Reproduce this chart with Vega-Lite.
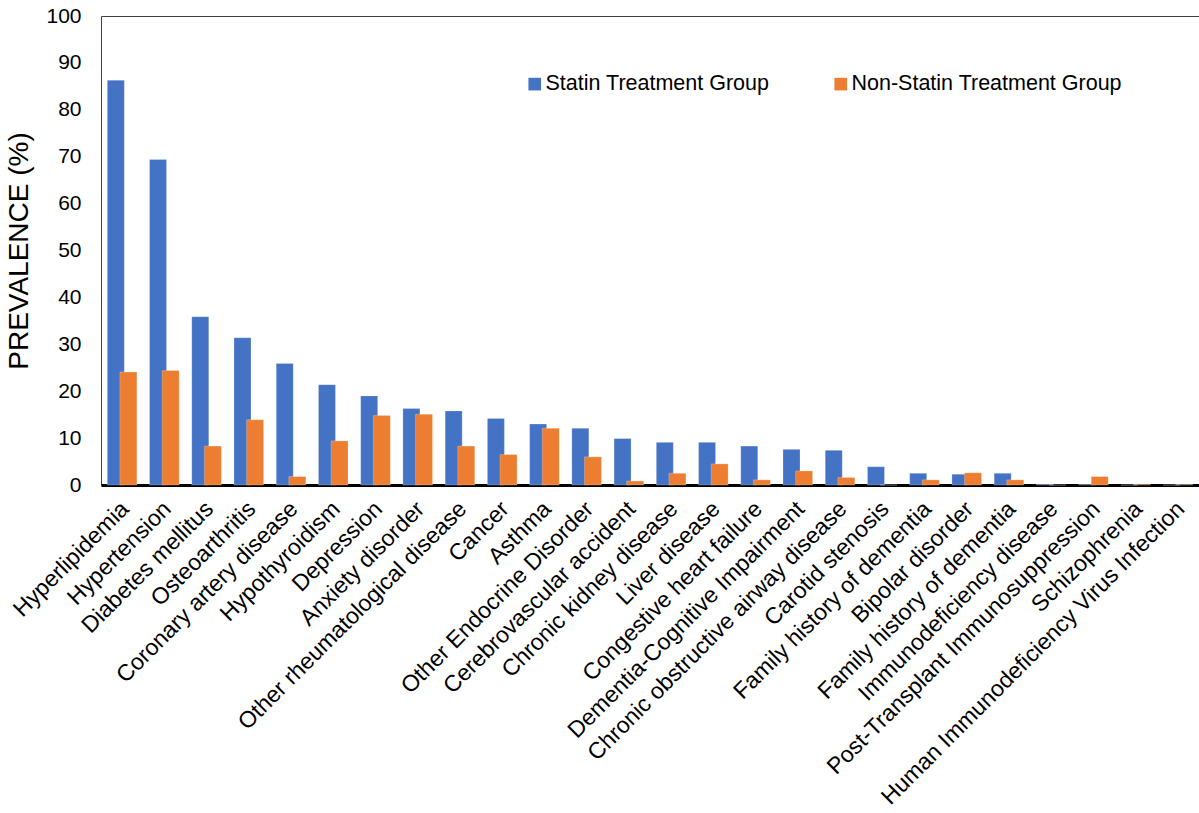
{
  "$schema": "https://vega.github.io/schema/vega-lite/v6.json",
  "autosize": "none",
  "width": 1098,
  "height": 469,
  "padding": {"left": 101, "top": 16, "right": 0, "bottom": 328},
  "background": "white",
  "config": {
    "font": "Liberation Sans",
    "view": {"stroke": "#404040", "strokeWidth": 1}
  },
  "data": {
    "values": [
      {"condition": "Hyperlipidemia", "group": "Statin Treatment Group", "prevalence": 86.3},
      {"condition": "Hypertension", "group": "Statin Treatment Group", "prevalence": 69.4},
      {"condition": "Diabetes mellitus", "group": "Statin Treatment Group", "prevalence": 35.9},
      {"condition": "Osteoarthritis", "group": "Statin Treatment Group", "prevalence": 31.4},
      {"condition": "Coronary artery disease", "group": "Statin Treatment Group", "prevalence": 25.9},
      {"condition": "Hypothyroidism", "group": "Statin Treatment Group", "prevalence": 21.4},
      {"condition": "Depression", "group": "Statin Treatment Group", "prevalence": 19.0},
      {"condition": "Anxiety disorder", "group": "Statin Treatment Group", "prevalence": 16.3},
      {"condition": "Other rheumatological disease", "group": "Statin Treatment Group", "prevalence": 15.8},
      {"condition": "Cancer", "group": "Statin Treatment Group", "prevalence": 14.2},
      {"condition": "Asthma", "group": "Statin Treatment Group", "prevalence": 13.0},
      {"condition": "Other Endocrine Disorder", "group": "Statin Treatment Group", "prevalence": 12.1},
      {"condition": "Cerebrovascular accident", "group": "Statin Treatment Group", "prevalence": 9.9},
      {"condition": "Chronic kidney disease", "group": "Statin Treatment Group", "prevalence": 9.1},
      {"condition": "Liver disease", "group": "Statin Treatment Group", "prevalence": 9.1},
      {"condition": "Congestive heart failure", "group": "Statin Treatment Group", "prevalence": 8.3},
      {"condition": "Dementia-Cognitive Impairment", "group": "Statin Treatment Group", "prevalence": 7.6},
      {"condition": "Chronic obstructive airway disease", "group": "Statin Treatment Group", "prevalence": 7.4},
      {"condition": "Carotid stenosis", "group": "Statin Treatment Group", "prevalence": 3.9},
      {"condition": "Family history of dementia", "group": "Statin Treatment Group", "prevalence": 2.5},
      {"condition": "Bipolar disorder", "group": "Statin Treatment Group", "prevalence": 2.3},
      {"condition": "Family history of dementia ", "group": "Statin Treatment Group", "prevalence": 2.5},
      {"condition": "Immunodeficiency disease", "group": "Statin Treatment Group", "prevalence": 0.15},
      {"condition": "Post-Transplant Immunosuppression", "group": "Statin Treatment Group", "prevalence": 0.1},
      {"condition": "Schizophrenia", "group": "Statin Treatment Group", "prevalence": 0},
      {"condition": "Human Immunodeficiency Virus Infection", "group": "Statin Treatment Group", "prevalence": 0},
      {"condition": "Hyperlipidemia", "group": "Non-Statin Treatment Group", "prevalence": 24.1},
      {"condition": "Hypertension", "group": "Non-Statin Treatment Group", "prevalence": 24.4},
      {"condition": "Diabetes mellitus", "group": "Non-Statin Treatment Group", "prevalence": 8.3},
      {"condition": "Osteoarthritis", "group": "Non-Statin Treatment Group", "prevalence": 13.9},
      {"condition": "Coronary artery disease", "group": "Non-Statin Treatment Group", "prevalence": 1.8},
      {"condition": "Hypothyroidism", "group": "Non-Statin Treatment Group", "prevalence": 9.4},
      {"condition": "Depression", "group": "Non-Statin Treatment Group", "prevalence": 14.8},
      {"condition": "Anxiety disorder", "group": "Non-Statin Treatment Group", "prevalence": 15.1},
      {"condition": "Other rheumatological disease", "group": "Non-Statin Treatment Group", "prevalence": 8.3},
      {"condition": "Cancer", "group": "Non-Statin Treatment Group", "prevalence": 6.5},
      {"condition": "Asthma", "group": "Non-Statin Treatment Group", "prevalence": 12.1},
      {"condition": "Other Endocrine Disorder", "group": "Non-Statin Treatment Group", "prevalence": 6.0},
      {"condition": "Cerebrovascular accident", "group": "Non-Statin Treatment Group", "prevalence": 0.85},
      {"condition": "Chronic kidney disease", "group": "Non-Statin Treatment Group", "prevalence": 2.5},
      {"condition": "Liver disease", "group": "Non-Statin Treatment Group", "prevalence": 4.5},
      {"condition": "Congestive heart failure", "group": "Non-Statin Treatment Group", "prevalence": 1.1},
      {"condition": "Dementia-Cognitive Impairment", "group": "Non-Statin Treatment Group", "prevalence": 3.0},
      {"condition": "Chronic obstructive airway disease", "group": "Non-Statin Treatment Group", "prevalence": 1.6},
      {"condition": "Carotid stenosis", "group": "Non-Statin Treatment Group", "prevalence": 0},
      {"condition": "Family history of dementia", "group": "Non-Statin Treatment Group", "prevalence": 1.1},
      {"condition": "Bipolar disorder", "group": "Non-Statin Treatment Group", "prevalence": 2.6},
      {"condition": "Family history of dementia ", "group": "Non-Statin Treatment Group", "prevalence": 1.1},
      {"condition": "Immunodeficiency disease", "group": "Non-Statin Treatment Group", "prevalence": 0},
      {"condition": "Post-Transplant Immunosuppression", "group": "Non-Statin Treatment Group", "prevalence": 1.8},
      {"condition": "Schizophrenia", "group": "Non-Statin Treatment Group", "prevalence": 0.1},
      {"condition": "Human Immunodeficiency Virus Infection", "group": "Non-Statin Treatment Group", "prevalence": 0.1}
    ]
  },
  "mark": {"type": "bar", "width": 17, "stroke": "white", "strokeWidth": 0.4, "strokeOpacity": 0.6},
  "encoding": {
    "x": {
      "field": "condition",
      "type": "nominal",
      "sort": null,
      "scale": {"paddingInner": 0.403, "paddingOuter": 0.2015},
      "axis": {
        "title": null,
        "labelAngle": -45,
        "labelAlign": "right",
        "labelBaseline": "middle",
        "labelFontSize": 23,
        "labelColor": "black",
        "labelPadding": 20,
        "labelOffset": 3,
        "labelLimit": 700,
        "ticks": false,
        "domainColor": "black",
        "domainWidth": 3
      }
    },
    "xOffset": {
      "field": "group",
      "type": "nominal",
      "sort": ["Statin Treatment Group", "Non-Statin Treatment Group"],
      "scale": {"paddingInner": 0, "paddingOuter": 0}
    },
    "y": {
      "field": "prevalence",
      "type": "quantitative",
      "scale": {"domain": [0, 100], "nice": false},
      "axis": {
        "title": "PREVALENCE (%)",
        "titleFontSize": 28,
        "titleFontWeight": "normal",
        "titleColor": "black",
        "titlePadding": 12,
        "values": [0, 10, 20, 30, 40, 50, 60, 70, 80, 90, 100],
        "labelFontSize": 21,
        "labelColor": "black",
        "labelPadding": 20,
        "ticks": false,
        "grid": false,
        "domain": false
      }
    },
    "color": {
      "field": "group",
      "type": "nominal",
      "scale": {
        "domain": ["Statin Treatment Group", "Non-Statin Treatment Group"],
        "range": ["#4472C4", "#ED7D31"]
      },
      "legend": {
        "title": null,
        "orient": "none",
        "legendX": 423,
        "legendY": 57,
        "direction": "horizontal",
        "symbolType": "square",
        "symbolSize": 160,
        "symbolStrokeWidth": 0,
        "labelFontSize": 21.5,
        "labelColor": "black",
        "labelOffset": 0,
        "labelLimit": 500,
        "columnPadding": 60
      }
    }
  }
}
